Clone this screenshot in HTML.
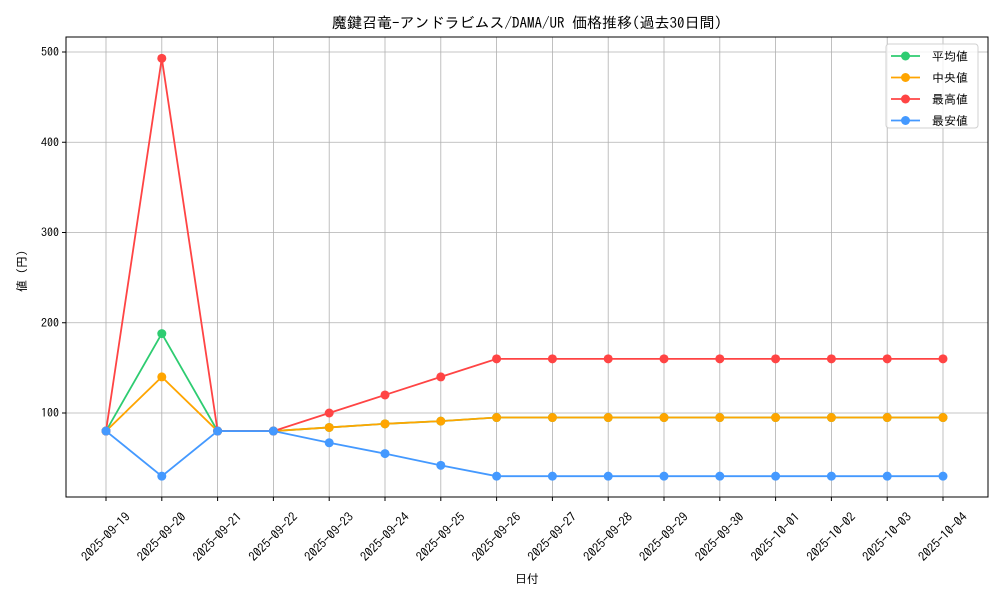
<!DOCTYPE html>
<html><head><meta charset="utf-8"><style>
body{margin:0;background:#fff;}
svg text{font-family:"IPAGothic","Noto Sans CJK JP",monospace;fill:#000;}
</style></head><body>
<svg id="chart" width="1000" height="600" xmlns="http://www.w3.org/2000/svg"></svg>
<script>
const categories=["2025-09-19","2025-09-20","2025-09-21","2025-09-22","2025-09-23","2025-09-24","2025-09-25","2025-09-26","2025-09-27","2025-09-28","2025-09-29","2025-09-30","2025-10-01","2025-10-02","2025-10-03","2025-10-04"];
const meanVals=[80,188,80,80,84,88,91,95,95,95,95,95,95,95,95,95];
const medianVals=[80,140,80,80,84,88,91,95,95,95,95,95,95,95,95,95];
const maxVals=[80,493,80,80,100,120,140,160,160,160,160,160,160,160,160,160];
const minVals=[80,30,80,80,67,55,42,30,30,30,30,30,30,30,30,30];
const yTicks=[100,200,300,400,500];
const seriesNames=["平均値","中央値","最高値","最安値"];
const colors=["#2ecc71","#ffa500","#ff4444","#4499ff"];
const L=66,R=988,T=37,B=497;
const x0=106,dx=(943-106)/15;
function xs(i){return x0+i*dx;}
function ys(v){return 503.25-v*0.9025;}
const svg=document.getElementById('chart');
const NS="http://www.w3.org/2000/svg";
function mk(t,a,txt){const e=document.createElementNS(NS,t);for(const k in a)e.setAttribute(k,a[k]);if(txt!=null)e.textContent=txt;svg.appendChild(e);return e;}
categories.forEach((c,i)=>{const g=mk('line',{x1:xs(i),x2:xs(i),y1:T,y2:B,stroke:'#b0b0b0','stroke-width':0.8});


const tk=mk('line',{x1:xs(i),x2:xs(i),y1:B,y2:B+4,stroke:'#000'});


const cy=B+40;
const t=mk('text',{x:xs(i),y:cy+4,'font-size':12.5,'text-anchor':'middle',transform:`rotate(-45 ${xs(i)} ${cy})`},c);


});
yTicks.forEach(v=>{const g=mk('line',{x1:L,x2:R,y1:ys(v),y2:ys(v),stroke:'#b0b0b0','stroke-width':0.8});


const tk=mk('line',{x1:L-4,x2:L,y1:ys(v),y2:ys(v),stroke:'#000'});


const t=mk('text',{x:L-7,y:ys(v)+4,'font-size':12,'text-anchor':'end'},v);


});
const fr=mk('rect',{x:L,y:T,width:R-L,height:B-T,fill:'none',stroke:'#000','stroke-width':1});


[meanVals,medianVals,maxVals,minVals].forEach((vals,s)=>{
const p=mk('polyline',{points:vals.map((v,i)=>xs(i)+','+ys(v)).join(' '),fill:'none',stroke:colors[s],'stroke-width':1.8});


vals.forEach((v,i)=>{const c=mk('circle',{cx:xs(i),cy:ys(v),r:4.5,fill:colors[s]});

});
});
const t1=mk('text',{x:527,y:28,'font-size':15,'text-anchor':'middle'},'魔鍵召竜-アンドラビムス/DAMA/UR 価格推移(過去30日間)');


const t2=mk('text',{x:527,y:583,'font-size':12,'text-anchor':'middle'},'日付');


const t3=mk('text',{x:26,y:271,'font-size':12,'text-anchor':'middle',transform:'rotate(-90 26 271)'},'値 (円)');


const lg=mk('rect',{x:886,y:44,width:92,height:84,rx:3,fill:'#fff','fill-opacity':0.8,stroke:'#d0d0d0'});


seriesNames.forEach((n,s)=>{const y=56+s*21.5;
const l=mk('line',{x1:891,x2:920,y1:y,y2:y,stroke:colors[s],'stroke-width':1.8});


const c=mk('circle',{cx:905.5,cy:y,r:4.5,fill:colors[s]});


const t=mk('text',{x:932,y:y+4.5,'font-size':12},n);

});
</script>
</body></html>
